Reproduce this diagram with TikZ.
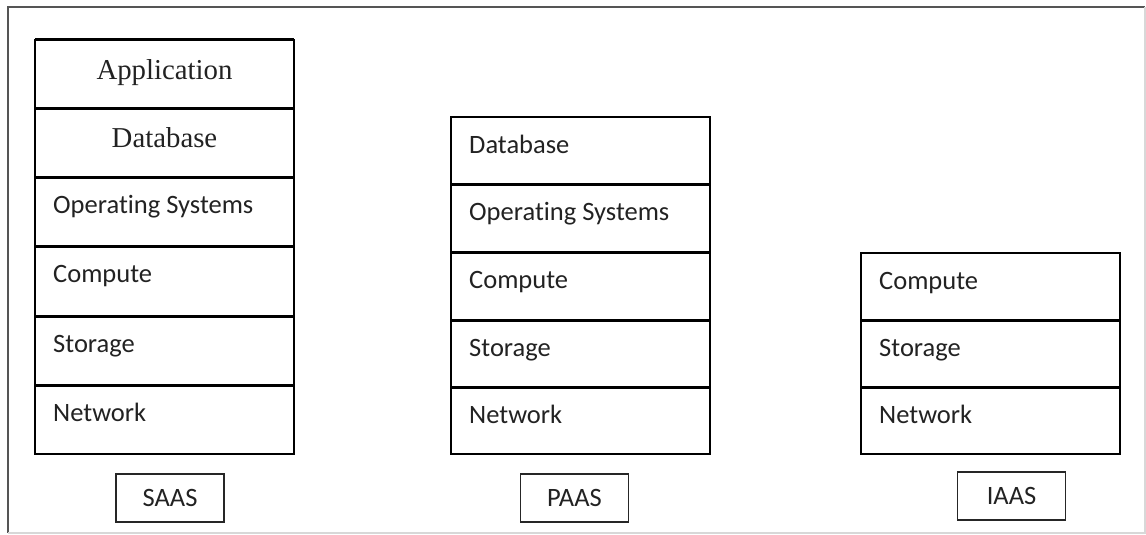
\documentclass[tikz,border=0pt]{standalone}
\usepackage{fontspec}
\newfontfamily\sansf[Ligatures=NoCommon]{Carlito}
\newfontfamily\seriff{Liberation Serif}
\definecolor{txt}{HTML}{222222}
\definecolor{framedark}{HTML}{555555}
\definecolor{framelight}{HTML}{D8D8D8}
\tikzset{
  cell/.style={draw=black, line width=1.4pt, minimum width=259pt, anchor=north west, inner sep=0pt, outer sep=0pt},
  sanstxt/.style={font=\sansf\fontsize{26.5}{30}\selectfont, text=txt, anchor=base west, inner sep=0pt},
  seriftxt/.style={font=\seriff\fontsize{28.8}{32}\selectfont, text=txt, anchor=base, inner sep=0pt},
  tag/.style={draw=black!85, line width=1.4pt, minimum width=108pt, minimum height=48pt, font=\sansf\fontsize{26.5}{30}\selectfont, text=txt, inner sep=0pt},
  divider/.style={line width=3pt, black}
}
\begin{document}
\begin{tikzpicture}[x=1pt,y=-1pt]
\useasboundingbox (0,0) rectangle (1146,535);
% outer frame
\draw[framedark, line width=2pt] (1145,7) -- (8,7) -- (8,533);
\draw[framelight, line width=1.5pt] (8,533) -- (1145,533) -- (1145,7);

% SAAS stack
\node[cell, minimum height=68pt] (sA) at (35,40) {};
\node[cell, minimum height=69pt] (sD) at (35,108) {};
\node[cell, minimum height=69pt] (sO) at (35,177) {};
\node[cell, minimum height=70pt] (sC) at (35,246) {};
\node[cell, minimum height=69pt] (sS) at (35,316) {};
\node[cell, minimum height=69pt] (sN) at (35,385) {};
\draw[divider] (sA.north west) -- (sA.north east);
\draw[divider] (sA.south west) -- (sA.south east);
\draw[divider] (sD.south west) -- (sD.south east);
\draw[divider] (sO.south west) -- (sO.south east);
\draw[divider] (sC.south west) -- (sC.south east);
\draw[divider] (sS.south west) -- (sS.south east);
\node[seriftxt] (tsA) at ([yshift=-39pt]sA.north) {Application};
\node[seriftxt] (tsD) at ([yshift=-39pt]sD.north) {Database};
\node[sanstxt] (tsO) at ([xshift=18pt,yshift=-36pt]sO.north west) {Operating Systems};
\node[sanstxt] (tsC) at ([xshift=18pt,yshift=-36pt]sC.north west) {Compute};
\node[sanstxt] (tsS) at ([xshift=18pt,yshift=-36pt]sS.north west) {Storage};
\node[sanstxt] (tsN) at ([xshift=18pt,yshift=-36pt]sN.north west) {Network};

% PAAS stack
\node[cell, minimum height=67pt] (pD) at (451,117) {};
\node[cell, minimum height=68pt] (pO) at (451,184) {};
\node[cell, minimum height=68pt] (pC) at (451,252) {};
\node[cell, minimum height=67pt] (pS) at (451,320) {};
\node[cell, minimum height=67pt] (pN) at (451,387) {};
\draw[divider] (pD.south west) -- (pD.south east);
\draw[divider] (pO.south west) -- (pO.south east);
\draw[divider] (pC.south west) -- (pC.south east);
\draw[divider] (pS.south west) -- (pS.south east);
\node[sanstxt] (tpD) at ([xshift=18pt,yshift=-36pt]pD.north west) {Database};
\node[sanstxt] (tpO) at ([xshift=18pt,yshift=-36pt]pO.north west) {Operating Systems};
\node[sanstxt] (tpC) at ([xshift=18pt,yshift=-36pt]pC.north west) {Compute};
\node[sanstxt] (tpS) at ([xshift=18pt,yshift=-36pt]pS.north west) {Storage};
\node[sanstxt] (tpN) at ([xshift=18pt,yshift=-36pt]pN.north west) {Network};

% IAAS stack
\node[cell, minimum height=67pt] (iC) at (861,253) {};
\node[cell, minimum height=67pt] (iS) at (861,320) {};
\node[cell, minimum height=67pt] (iN) at (861,387) {};
\draw[divider] (iC.south west) -- (iC.south east);
\draw[divider] (iS.south west) -- (iS.south east);
\node[sanstxt] (tiC) at ([xshift=18pt,yshift=-36pt]iC.north west) {Compute};
\node[sanstxt] (tiS) at ([xshift=18pt,yshift=-36pt]iS.north west) {Storage};
\node[sanstxt] (tiN) at ([xshift=18pt,yshift=-36pt]iN.north west) {Network};

% labels
\node[tag] (saas) at (170,498) {SAAS};
\node[tag] (paas) at (574.5,498) {PAAS};
\node[tag] (iaas) at (1011.5,496) {IAAS};
\end{tikzpicture}
\end{document}
